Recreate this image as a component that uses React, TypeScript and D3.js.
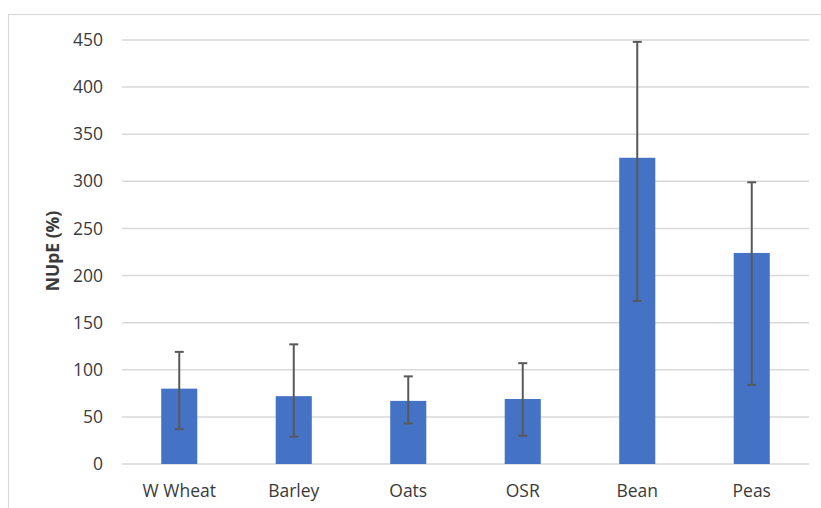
import React from "react";
import * as d3 from "d3";

const categories = ["W Wheat", "Barley", "Oats", "OSR", "Bean", "Peas"];
const values = [80, 72, 67, 69, 325, 224];
const errLow = [37, 29, 43, 30, 173, 84];
const errHigh = [119, 127, 93, 107, 448, 299];
const yTicks = [0, 50, 100, 150, 200, 250, 300, 350, 400, 450];
const yLabel = "NUpE (%)";

export default function App() {
  const W = 821, H = 508;
  const left = 122, right = 809, top = 40, bottom = 464;
  const x = d3.scaleBand<string>().domain(categories).range([left, right]).paddingInner(0.685).paddingOuter(0.3425);
  const y = d3.scaleLinear().domain([0, 450]).range([bottom, top]);
  const font = "'Open Sans', sans-serif";
  const fs = 17.5;
  return (
    <svg width={W} height={H} style={{ position: "absolute", left: 0, top: 0, background: "#fff" }}>
      <rect x={8.5} y={14.5} width={830} height={520} fill="#fff" stroke="#d9d9d9" strokeWidth={1.2} />
      {yTicks.map((t) => (
        <g key={t}>
          <line x1={left} x2={right} y1={y(t)} y2={y(t)} stroke="#d9d9d9" strokeWidth={1.5} />
          <text x={103} y={y(t)} dy="0.35em" textAnchor="end" fontFamily={font} fontSize={fs} fill="#3a3a3a">{t}</text>
        </g>
      ))}
      {categories.map((c, i) => {
        const bx = x(c)!;
        const bw = x.bandwidth();
        const cx = bx + bw / 2;
        return (
          <g key={c}>
            <rect x={bx} y={y(values[i])} width={bw} height={y(0) - y(values[i])} fill="#4472c4" />
            <line x1={cx} x2={cx} y1={y(errHigh[i])} y2={y(errLow[i])} stroke="#595959" strokeWidth={2} />
            <line x1={cx - 4.5} x2={cx + 4.5} y1={y(errHigh[i])} y2={y(errHigh[i])} stroke="#595959" strokeWidth={2} />
            <line x1={cx - 4.5} x2={cx + 4.5} y1={y(errLow[i])} y2={y(errLow[i])} stroke="#595959" strokeWidth={2} />
            <text x={cx} y={491} dy="0.35em" textAnchor="middle" fontFamily={font} fontSize={fs} fill="#3a3a3a">{c}</text>
          </g>
        );
      })}
      <text transform={`translate(53,251) rotate(-90)`} dy="0.35em" textAnchor="middle" fontFamily={font} fontWeight="bold" fontSize={fs} fill="#3a3a3a">{yLabel}</text>
    </svg>
  );
}
